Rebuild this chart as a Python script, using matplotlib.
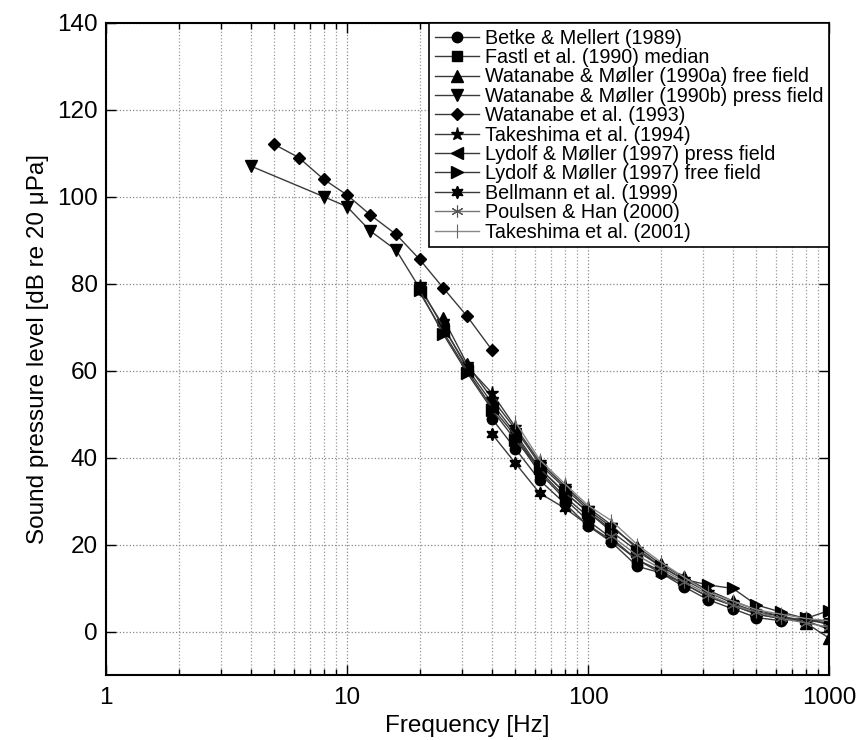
import numpy as np
import matplotlib
matplotlib.use("Agg")
import matplotlib.pyplot as plt
from matplotlib.ticker import LogLocator, FixedLocator, NullFormatter

plt.rcParams['font.family'] = ['Liberation Sans', 'DejaVu Sans']

# ---- data (frequency in Hz, threshold in dB) ----
betke_f = [40, 50, 63, 80, 100, 125, 160, 200, 250, 315, 400, 500, 630, 800, 1000]
betke_v = [48.9, 42.0, 34.8, 29.5, 24.3, 20.6, 15.0, 13.5, 10.3, 7.3, 5.2, 3.2, 2.5, 3.1, 1.5]

fastl_f = [50, 63, 80, 100, 125, 160, 200, 250, 315, 400, 500, 630, 800, 1000]
fastl_v = [44.5, 36.5, 30.5, 25.5, 21.5, 16.5, 14.0, 11.0, 8.0, 6.0, 4.0, 3.0, 2.5, 2.0]

wm90a_f = [25, 31.5, 40, 50, 63, 80, 100, 125, 160, 200, 250, 315, 400, 500, 630, 800, 1000]
wm90a_v = [72.2, 61.5, 53.5, 46.5, 38.5, 33.0, 28.0, 24.0, 19.5, 15.5, 12.5, 9.5, 7.0, 5.0, 3.5, 2.0, -1.5]

wm90b_f = [4, 8, 10, 12.5, 16, 20, 25, 31.5, 40, 50, 63, 80, 100, 125]
wm90b_v = [107.0, 100.0, 97.7, 92.1, 87.7, 79.0, 70.5, 60.5, 52.5, 45.5, 37.5, 32.0, 27.5, 23.5]

wat93_f = [5, 6.3, 8, 10, 12.5, 16, 20, 25, 31.5, 40]
wat93_v = [112.0, 109.0, 104.0, 100.4, 95.8, 91.3, 85.6, 79.1, 72.5, 64.7]

tak94_f = [20, 25, 31.5, 40, 50, 63, 80, 100, 125, 160, 200, 250, 315, 400, 500, 630, 800, 1000]
tak94_v = [79.5, 70.0, 61.0, 54.8, 47.0, 39.0, 33.5, 28.5, 24.5, 19.0, 15.0, 12.0, 9.0, 6.5, 4.5, 3.5, 2.5, 2.5]

lydp_f = [20, 25, 31.5, 40, 50, 63, 80, 100]
lydp_v = [78.0, 69.0, 60.0, 51.5, 45.0, 37.0, 31.0, 26.5]

lydf_f = [20, 25, 31.5, 40, 50, 63, 80, 100, 125, 160, 200, 250, 315, 400, 500, 630, 800, 1000]
lydf_v = [78.5, 68.5, 59.5, 51.0, 44.0, 37.5, 32.0, 27.5, 23.0, 18.5, 15.0, 12.0, 10.7, 9.9, 6.1, 4.5, 3.0, 4.8]

bell_f = [40, 50, 63, 80, 100, 125, 160, 200, 250, 315, 400, 500, 630, 800, 1000]
bell_v = [45.4, 38.7, 31.8, 28.4, 24.5, 21.0, 16.5, 13.5, 11.0, 8.0, 6.0, 4.0, 3.0, 2.5, 0.5]

poul_f = [125, 160, 200, 250, 315, 400, 500, 630, 800, 1000]
poul_v = [22.0, 17.5, 14.5, 11.5, 8.5, 6.0, 4.5, 3.0, 2.0, 1.0]

tak01_f = [50, 63, 80, 100, 125, 160, 200, 250, 315, 400, 500, 630, 800, 1000]
tak01_v = [48.2, 39.5, 34.0, 29.0, 25.5, 20.0, 16.0, 12.5, 9.0, 7.0, 5.0, 4.0, 3.0, 2.5]

labels = ["Betke & Mellert (1989)",
          "Fastl et al. (1990) median",
          "Watanabe & Møller (1990a) free field",
          "Watanabe & Møller (1990b) press field",
          "Watanabe et al. (1993)",
          "Takeshima et al. (1994)",
          "Lydolf & Møller (1997) press field",
          "Lydolf & Møller (1997) free field",
          "Bellmann et al. (1999)",
          "Poulsen & Han (2000)",
          "Takeshima et al. (2001)"]

xticks = [1, 10, 100, 1000]
xticklabels = ["1", "10", "100", "1000"]
yticks = [0, 20, 40, 60, 80, 100, 120, 140]

series = [(betke_f, betke_v), (fastl_f, fastl_v), (wm90a_f, wm90a_v), (wm90b_f, wm90b_v),
          (wat93_f, wat93_v), (tak94_f, tak94_v), (lydp_f, lydp_v), (lydf_f, lydf_v),
          (bell_f, bell_v), (poul_f, poul_v), (tak01_f, tak01_v)]

styles = [
    dict(marker='o', ms=7.5, color='#3a3a3a', mfc='black', mec='black'),
    dict(marker='s', ms=6.5, color='#3a3a3a', mfc='black', mec='black'),
    dict(marker='^', ms=9, color='#3a3a3a', mfc='black', mec='black'),
    dict(marker='v', ms=9, color='#3a3a3a', mfc='black', mec='black'),
    dict(marker='D', ms=6.5, color='#3a3a3a', mfc='black', mec='black'),
    dict(marker='*', ms=9.5, color='#3a3a3a', mfc='black', mec='black'),
    dict(marker='<', ms=9, color='#3a3a3a', mfc='black', mec='black'),
    dict(marker='>', ms=9, color='#3a3a3a', mfc='black', mec='black'),
    dict(marker=(6, 1, 0), ms=9, color='#3a3a3a', mfc='black', mec='black'),
    dict(marker=(6, 2, 0), ms=8.5, color='#777777', mfc='#555555', mec='#555555', mew=0.8),
    dict(marker='|', ms=10, color='#888888', mfc='#666666', mec='#666666', mew=0.8),
]

fig = plt.figure(figsize=(8.6, 7.4), dpi=100)
ax = fig.add_axes([106/860, 1-675/740, (829-106)/860, (675-22.7)/740])

for (f, v), st, lab in zip(series, styles, labels):
    ax.plot(f, v, lw=1.0, label=lab, **st)

ax.set_xscale('log')
ax.set_xlim(1, 1000)
ax.set_ylim(-10, 140)
ax.xaxis.set_major_locator(FixedLocator(xticks))
ax.set_xticklabels(xticklabels)
ax.xaxis.set_minor_locator(LogLocator(base=10, subs=np.arange(2, 10)))
ax.xaxis.set_minor_formatter(NullFormatter())
ax.set_yticks(yticks)

ax.grid(True, which='major', axis='both', linestyle=':', color='#888888', linewidth=0.9)
ax.grid(True, which='minor', axis='x', linestyle=':', color='#999999', linewidth=0.9)
ax.set_axisbelow(True)

ax.tick_params(which='both', direction='in', top=True, right=True, labelsize=17.5, width=1.0)
ax.tick_params(which='major', length=7)
ax.tick_params(which='minor', length=4)
ax.tick_params(axis='x', pad=9)
ax.tick_params(axis='y', pad=6)
for s in ax.spines.values():
    s.set_linewidth(1.5)

ax.set_xlabel("Frequency [Hz]", fontsize=17.5, labelpad=4)
ax.set_ylabel("Sound pressure level [dB re 20 μPa]", fontsize=17.5, labelpad=6)

leg = ax.legend(loc='upper right', borderaxespad=0, fancybox=False, framealpha=1,
                edgecolor='black', fontsize=14.2, labelspacing=0.02, handlelength=2.2,
                handletextpad=0.3, borderpad=0.3, numpoints=1)
leg.get_frame().set_linewidth(1.2)

fig.savefig("out.png", dpi=100)
